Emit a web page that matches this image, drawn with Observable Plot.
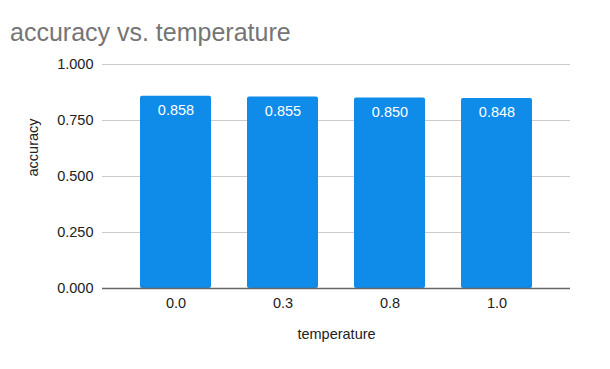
<!DOCTYPE html>
<html><head><meta charset="utf-8">
<script src="https://cdn.jsdelivr.net/npm/d3@7"></script>
<script src="https://cdn.jsdelivr.net/npm/@observablehq/plot@0.6"></script>
<style>
body{margin:0;background:#fff;font-family:"Liberation Sans",Arial,sans-serif;}
#title{height:50px;box-sizing:border-box;padding:18px 0 0 10px;font-size:25px;color:#757575;line-height:28px;}
</style></head>
<body>
<div id="title">accuracy vs. temperature</div>
<div id="chart"></div>
<script>
const temperatures = ["0.0", "0.3", "0.8", "1.0"];
const accuracy = [0.858, 0.855, 0.850, 0.848];
const yTicks = [0, 0.25, 0.5, 0.75, 1.0];

const data = temperatures.map((t, i) => ({temperature: t, accuracy: accuracy[i]}));

const chart = Plot.plot({
  width: 610,
  height: 319,
  marginLeft: 102,
  marginRight: 40,
  marginTop: 14,
  marginBottom: 81,
  style: {fontFamily: "Liberation Sans, Arial, sans-serif", fontSize: "14.5px", color: "#222", background: "#fff"},
  x: {domain: temperatures, paddingInner: 0.34, paddingOuter: 0.35, label: null},
  y: {domain: [0, 1], label: null},
  marks: [
    Plot.gridY(yTicks, {stroke: "#cccccc", strokeOpacity: 1}),
    Plot.barY(data, {x: "temperature", y: "accuracy", fill: "#0f8be9", rx: 2}),
    Plot.ruleY([0], {stroke: "#666", strokeWidth: 1.5}),
    Plot.axisY(yTicks, {tickSize: 0, tickPadding: 9, tickFormat: d3.format(".3f"), fontSize: 14.5, label: null}),
    Plot.axisX({tickSize: 0, tickPadding: 9, fontSize: 14.5, label: null}),
    Plot.text(data, {x: "temperature", y: "accuracy", text: d => d3.format(".3f")(d.accuracy), dy: 14, fill: "white", fontSize: 14.5}),
    Plot.text(["accuracy"], {frameAnchor: "left", dx: -69, rotate: -90, fontSize: 14.5, fill: "#222"}),
    Plot.text(["temperature"], {frameAnchor: "bottom", dy: 50, fontSize: 14.5, fill: "#222"})
  ]
});
document.getElementById("chart").appendChild(chart);
</script>
</body></html>
